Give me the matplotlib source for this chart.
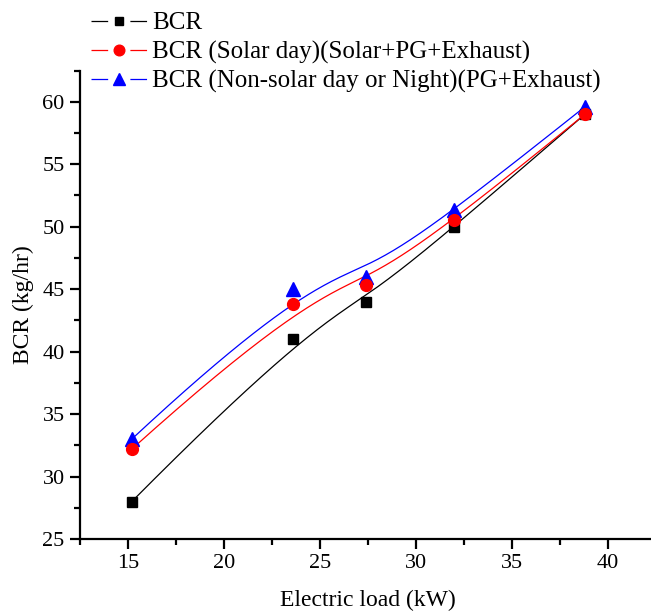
import numpy as np
import matplotlib
matplotlib.use("Agg")
import matplotlib.pyplot as plt
from matplotlib.ticker import MultipleLocator

plt.rcParams['font.family'] = ['Liberation Serif', 'DejaVu Serif']
plt.rcParams['lines.scale_dashes'] = False

# electric load (kW) and bunker consumption rate (kg/hr)
load = [15.2, 23.6, 27.4, 32.0, 38.8]
bcr = [28.0, 41.0, 44.0, 50.0, 59.0]
bcr_solar = [32.2, 43.8, 45.3, 50.5, 59.0]
bcr_night = [33.0, 45.0, 46.0, 51.3, 59.6]

labels = ["BCR",
          "BCR (Solar day)(Solar+PG+Exhaust)",
          "BCR (Non-solar day or Night)(PG+Exhaust)"]


def bspline(xs, ys, n=200, k=3):
    """clamped uniform B-spline through the control points (passes only the ends)"""
    pts = np.column_stack([xs, ys]).astype(float)
    m = len(pts)
    inner = np.linspace(0, 1, m - k + 1)
    knots = np.concatenate([np.zeros(k), inner, np.ones(k)])
    u = np.linspace(0, 1, n)
    u[-1] -= 1e-9

    def basis(i, p, t):
        if p == 0:
            return ((knots[i] <= t) & (t < knots[i + 1])).astype(float)
        out = np.zeros_like(t)
        d1 = knots[i + p] - knots[i]
        d2 = knots[i + p + 1] - knots[i + 1]
        if d1 > 0:
            out += (t - knots[i]) / d1 * basis(i, p - 1, t)
        if d2 > 0:
            out += (knots[i + p + 1] - t) / d2 * basis(i + 1, p - 1, t)
        return out

    curve = sum(basis(i, k, u)[:, None] * pts[i] for i in range(m))
    return curve[:, 0], curve[:, 1]


fig = plt.figure(figsize=(6.51, 6.12), dpi=100)
ax = fig.add_axes([80 / 651, 73 / 612, 576 / 651, 468.5 / 612])

series = [
    (bcr, 'black', 's', 7, 3),
    (bcr_solar, 'red', 'o', 8.5, 5),
    (bcr_night, 'blue', '^', 9.5, 4),
]
handles = []
for (vals, col, mk, ms, z), lab in zip(series, labels):
    sx, sy = bspline(load, vals)
    ax.plot(sx, sy, color=col, lw=0.9, zorder=2)
    ax.plot(load, vals, ls='none', marker=mk, ms=ms, color=col, zorder=z)
    # legend key: line broken around the marker
    h, = ax.plot([], [], color=col, lw=0.9, marker=mk, ms=ms * 0.9,
                 dashes=(12.0, 16.0, 12.0, 60), label=lab)
    handles.append(h)

ax.set_xlim(12.5, 42.5)
ax.set_ylim(25, 62.5)
ax.xaxis.set_major_locator(MultipleLocator(5))
ax.xaxis.set_minor_locator(MultipleLocator(2.5))
ax.yaxis.set_major_locator(MultipleLocator(5))
ax.yaxis.set_minor_locator(MultipleLocator(2.5))

for s in ['top', 'right']:
    ax.spines[s].set_visible(False)
for s in ['left', 'bottom']:
    ax.spines[s].set_linewidth(1.6)
ax.tick_params(which='major', direction='out', length=7, width=1.6, labelsize=16, pad=4)
ax.tick_params(which='minor', direction='out', length=4, width=1.6)

ax.set_xlabel("Electric load (kW)", fontsize=17, labelpad=12)
ax.set_ylabel("BCR (kg/hr)", fontsize=17, labelpad=6)

fig.legend(handles=handles, loc='upper left', bbox_to_anchor=(76 / 651, 1.005),
           frameon=False, fontsize=18, handlelength=2.22, handletextpad=0.22,
           labelspacing=0.25, borderaxespad=0.2)

fig.savefig("out.png", dpi=100)
